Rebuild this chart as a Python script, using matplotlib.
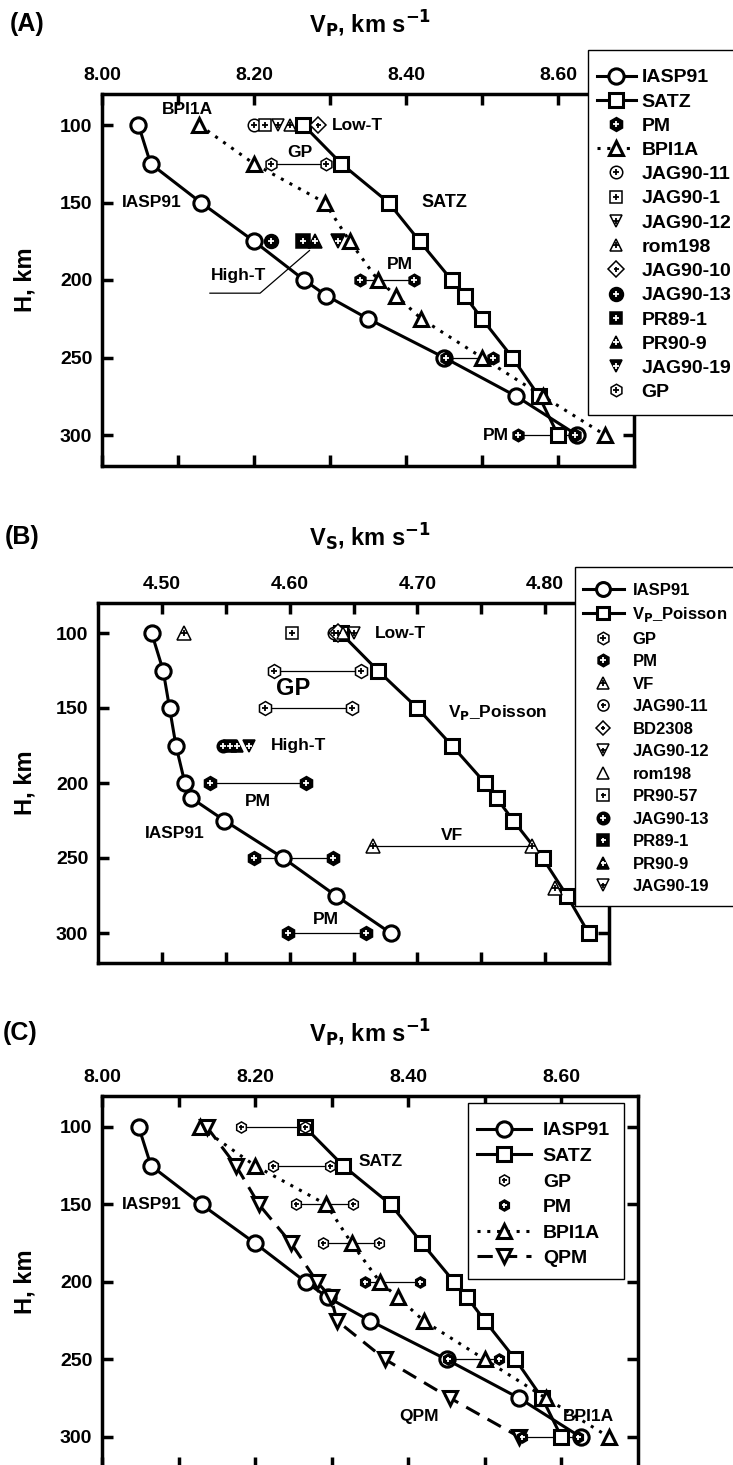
import matplotlib
matplotlib.use("Agg")
import matplotlib.pyplot as plt
from matplotlib.lines import Line2D
from matplotlib.patches import Rectangle
from matplotlib.legend_handler import HandlerTuple

plt.rcParams['font.family'] = ['Liberation Sans', 'DejaVu Sans']
plt.rcParams['font.weight'] = 'bold'
plt.rcParams['mathtext.default'] = 'bf'

# ---------------- data ----------------
H = [100, 125, 150, 175, 200, 210, 225, 250, 275, 300]

# panel A / C (Vp)
vp_iasp91 = [8.048, 8.064, 8.130, 8.200, 8.266, 8.295, 8.350, 8.450, 8.545, 8.625]
vp_satz = [8.265, 8.315, 8.377, 8.418, 8.460, 8.477, 8.500, 8.540, 8.575, 8.600]
vp_bpi1a = [8.128, 8.200, 8.293, 8.326, 8.363, 8.387, 8.420, 8.500, 8.580, 8.662]
vp_qpm = [8.137, 8.175, 8.205, 8.247, 8.281, 8.299, 8.307, 8.370, 8.455, 8.545]

# ranges (pairs at one depth): depth, low, high
a_gp = [(125, 8.222, 8.295)]
a_pm = [(200, 8.339, 8.410), (250, 8.452, 8.515), (300, 8.548, 8.622)]
a_lowT = {'JAG90-11': 8.200, 'JAG90-1': 8.215, 'JAG90-12': 8.232,
          'rom198': 8.248, 'JAG90-10': 8.284}
a_highT = {'JAG90-13': 8.222, 'PR89-1': 8.265, 'PR90-9': 8.280, 'JAG90-19': 8.310}

c_gp = [(100, 8.181, 8.265), (125, 8.223, 8.298), (150, 8.254, 8.328),
        (175, 8.288, 8.362)]
c_pm = [(200, 8.343, 8.415), (250, 8.452, 8.518), (300, 8.548, 8.622)]

# panel B (Vs)
vs_iasp91 = [4.492, 4.501, 4.506, 4.511, 4.518, 4.523, 4.549, 4.595, 4.636, 4.679]
vs_poisson = [4.640, 4.669, 4.700, 4.727, 4.753, 4.762, 4.775, 4.798, 4.817, 4.834]
b_gp = [(125, 4.588, 4.656), (150, 4.581, 4.649)]
b_pm = [(200, 4.538, 4.613), (250, 4.572, 4.634), (300, 4.599, 4.660)]
b_vf = [(242, 4.665, 4.790)]
b_vf_single = [(100, 4.517), (270, 4.808)]
b_lowT = {'PR90-57': 4.602, 'JAG90-11': 4.635, 'BD2308': 4.638,
          'rom198': 4.642, 'JAG90-12': 4.650}
b_highT = {'JAG90-13': 4.548, 'PR89-1': 4.553, 'PR90-9': 4.559, 'JAG90-19': 4.568}

W, HGT = 733, 1465
fig = plt.figure(figsize=(W / 100, HGT / 100), dpi=100)


def frac(x0, y0, x1, y1):
    return [x0 / W, 1 - y1 / HGT, (x1 - x0) / W, (y1 - y0) / HGT]


def style(ax, xlim, major, minor):
    ax.set_xlim(*xlim)
    ax.set_ylim(320, 80)
    ax.set_xticks(major)
    ax.set_xticks(minor, minor=True)
    ax.set_yticks([100, 150, 200, 250, 300])
    ax.tick_params(which='both', direction='in', length=8, width=2.5,
                   top=True, bottom=True, left=True, right=True,
                   labeltop=True, labelbottom=False, labelsize=14, pad=7)
    for s in ax.spines.values():
        s.set_linewidth(2.5)
    for lab in ax.get_xticklabels() + ax.get_yticklabels():
        lab.set_fontweight('bold')


def sym(ax, x, y, m, filled=False, ms=9, plus=True, zorder=5):
    ax.plot(x, y, ls='none', marker=m, ms=ms, mew=1.1,
            mfc='black' if filled else 'white', mec='black', zorder=zorder)
    if plus:
        ax.plot(x, y, ls='none', marker='+', ms=ms * 0.45, mew=1.3,
                color='white' if filled else 'black', zorder=zorder + 0.1)


def ranges(ax, data, m, filled, ms=9):
    for d, lo, hi in data:
        ax.plot([lo, hi], [d, d], color='black', lw=0.9, zorder=3)
        sym(ax, [lo, hi], [d, d], m, filled, ms)


def curve(ax, x, m, ls, ms=11):
    ax.plot(x, H, ls=ls, color='black', lw=2.2, marker=m, ms=ms, mew=2.2,
            mfc='white', mec='black', zorder=4)


def leg_handle(m, filled=False, ms=9, plus=True):
    h1 = Line2D([], [], ls='none', marker=m, ms=ms, mew=1.1,
                mfc='black' if filled else 'white', mec='black')
    if not plus:
        return h1
    h2 = Line2D([], [], ls='none', marker='+', ms=ms * 0.45, mew=1.3,
                color='white' if filled else 'black')
    return (h1, h2)


def line_handle(m, ls, ms=11):
    return Line2D([], [], ls=ls, color='black', lw=2.2, marker=m, ms=ms,
                  mew=2.2, mfc='white', mec='black')


def boxed_legend(handles, labels, box, anchor_y, size, **kw):
    # frame drawn separately so the vertical padding can differ from the horizontal one
    x0, y0, x1, y1 = box
    fig.add_artist(Rectangle((x0 / W, 1 - y1 / HGT), (x1 - x0) / W, (y1 - y0) / HGT,
                             transform=fig.transFigure, fc='white', ec='black',
                             lw=1.0, zorder=9))
    lg = fig.legend(handles, labels, handler_map={tuple: HandlerTuple(ndivide=1)},
                    loc='upper left', bbox_to_anchor=(x0 / W, 1 - anchor_y / HGT),
                    borderaxespad=0, frameon=False, borderpad=0.45,
                    prop=dict(size=size, weight='bold'), **kw)
    lg.set_zorder(10)


TXT = dict(fontsize=12.5, fontweight='bold')
DOT = (0, (1, 2.2))
DASH = (0, (5, 3))

# ---------------- panel A ----------------
axA = fig.add_axes(frac(102, 94, 634, 466))
style(axA, (8.0, 8.7), [8.0, 8.2, 8.4, 8.6], [8.1, 8.3, 8.5])
axA.set_xticklabels(['8.00', '8.20', '8.40', '8.60'])
curve(axA, vp_iasp91, 'o', '-')
curve(axA, vp_satz, 's', '-', ms=10)
curve(axA, vp_bpi1a, '^', DOT, ms=10)
ranges(axA, a_gp, 'h', False)
ranges(axA, a_pm, 'h', True)
low_m = {'JAG90-11': 'o', 'JAG90-1': 's', 'JAG90-12': 'v', 'rom198': '^', 'JAG90-10': 'D'}
for k, v in a_lowT.items():
    sym(axA, [v], [100], low_m[k], False, 9 if k != 'JAG90-10' else 8)
high_m = {'JAG90-13': 'o', 'PR89-1': 's', 'PR90-9': '^', 'JAG90-19': 'v'}
for k, v in a_highT.items():
    sym(axA, [v], [175], high_m[k], True, 10)
axA.text(8.112, 90, 'BPI1A', ha='center', va='center', **TXT)
axA.text(8.303, 100, 'Low-T', ha='left', va='center', **TXT)
axA.text(8.26, 118, 'GP', ha='center', va='center', **TXT)
axA.text(8.065, 150, 'IASP91', ha='center', va='center', **TXT)
axA.text(8.42, 150, 'SATZ', ha='left', va='center', fontsize=13, fontweight='bold')
axA.text(8.392, 190, 'PM', ha='center', va='center', **TXT)
axA.text(8.535, 300, 'PM', ha='right', va='center', **TXT)
axA.text(8.18, 197, 'High-T', ha='center', va='center', **TXT)
axA.plot([8.142, 8.208, 8.273], [208.5, 208.5, 181], color='black', lw=0.9)

legA_h = [line_handle('o', '-'), line_handle('s', '-', 10),
          leg_handle('h', True, 10), line_handle('^', DOT, 10),
          leg_handle('o'), leg_handle('s'), leg_handle('v'), leg_handle('^'),
          leg_handle('D', ms=8), leg_handle('o', True, 10), leg_handle('s', True),
          leg_handle('^', True), leg_handle('v', True), leg_handle('h')]
legA_l = ['IASP91', 'SATZ', 'PM', 'BPI1A', 'JAG90-11', 'JAG90-1', 'JAG90-12',
          'rom198', 'JAG90-10', 'JAG90-13', 'PR89-1', 'PR90-9', 'JAG90-19', 'GP']
boxed_legend(legA_h, legA_l, (588, 50, 745, 415), 60, 14, handlelength=2.0,
             labelspacing=0.34, handletextpad=0.3)

# ---------------- panel B ----------------
axB = fig.add_axes(frac(98, 603, 609, 963))
style(axB, (4.45, 4.85), [4.5, 4.6, 4.7, 4.8], [4.55, 4.65, 4.75])
axB.set_xticklabels(['4.50', '4.60', '4.70', '4.80'])
curve(axB, vs_iasp91, 'o', '-')
curve(axB, vs_poisson, 's', '-', ms=10)
ranges(axB, b_gp, 'h', False, 10)
ranges(axB, b_pm, 'h', True, 10)
ranges(axB, b_vf, '^', False, 10)
for d, v in b_vf_single:
    sym(axB, [v], [d], '^', False, 10)
blow_m = {'PR90-57': 's', 'JAG90-11': 'o', 'BD2308': 'D', 'rom198': '^', 'JAG90-12': 'v'}
for k, v in b_lowT.items():
    sym(axB, [v], [100], blow_m[k], False, 9, plus=(k != 'rom198'))
for k, v in b_highT.items():
    sym(axB, [v], [175], high_m[k], True, 9)
axB.text(4.667, 100, 'Low-T', ha='left', va='center', **TXT)
axB.text(4.603, 137, 'GP', ha='center', va='center', fontsize=17, fontweight='bold')
axB.text(4.724, 153, 'V$_\\mathbf{P}$_Poisson', ha='left', va='center', **TXT)
axB.text(4.585, 175, 'High-T', ha='left', va='center', **TXT)
axB.text(4.575, 212, 'PM', ha='center', va='center', **TXT)
axB.text(4.51, 234, 'IASP91', ha='center', va='center', **TXT)
axB.text(4.727, 235, 'VF', ha='center', va='center', **TXT)
axB.text(4.628, 291, 'PM', ha='center', va='center', **TXT)

legB_h = [line_handle('o', '-', 10), line_handle('s', '-', 9),
          leg_handle('h', ms=9), leg_handle('h', True, 9), leg_handle('^', ms=9),
          leg_handle('o', ms=8), leg_handle('D', ms=7), leg_handle('v', ms=8),
          leg_handle('^', ms=9, plus=False), leg_handle('s', ms=8),
          leg_handle('o', True, 9), leg_handle('s', True, 8),
          leg_handle('^', True, 8), leg_handle('v', ms=8)]
legB_l = ['IASP91', 'V$_\\mathbf{P}$_Poisson', 'GP', 'PM', 'VF', 'JAG90-11', 'BD2308',
          'JAG90-12', 'rom198', 'PR90-57', 'JAG90-13', 'PR89-1', 'PR90-9', 'JAG90-19']
boxed_legend(legB_h, legB_l, (575, 567, 745, 906), 575, 12, handlelength=2.5,
             labelspacing=0.45, handletextpad=0.5)

# ---------------- panel C ----------------
axC = fig.add_axes(frac(102, 1096, 638, 1468))
style(axC, (8.0, 8.7), [8.0, 8.2, 8.4, 8.6], [8.1, 8.3, 8.5])
axC.set_xticklabels(['8.00', '8.20', '8.40', '8.60'])
curve(axC, vp_iasp91, 'o', '-')
curve(axC, vp_satz, 's', '-', ms=10)
curve(axC, vp_bpi1a, '^', DOT, ms=10)
curve(axC, vp_qpm, 'v', DASH, ms=10)
ranges(axC, c_gp, 'h', False, 8)
ranges(axC, c_pm, 'h', True, 8)
axC.text(8.065, 150, 'IASP91', ha='center', va='center', **TXT)
axC.text(8.335, 122, 'SATZ', ha='left', va='center', **TXT)
axC.text(8.44, 287, 'QPM', ha='right', va='center', **TXT)
axC.text(8.635, 287, 'BPI1A', ha='center', va='center', **TXT)
boxed_legend([line_handle('o', '-'), line_handle('s', '-', 10), leg_handle('h', ms=8),
              leg_handle('h', True, 8), line_handle('^', DOT, 10),
              line_handle('v', DASH, 10)],
             ['IASP91', 'SATZ', 'GP', 'PM', 'BPI1A', 'QPM'],
             (468, 1103, 624, 1279), 1113, 14, handlelength=2.8,
             labelspacing=0.41, handletextpad=0.6)

# titles, panel letters, y labels
for lab, xt, yc, ttl in [('(A)', 10, 24, 'V$_\\mathbf{P}$, km s$^\\mathbf{-1}$'),
                         ('(B)', 5, 537, 'V$_\\mathbf{S}$, km s$^\\mathbf{-1}$'),
                         ('(C)', 3, 1033, 'V$_\\mathbf{P}$, km s$^\\mathbf{-1}$')]:
    fig.text(xt / W, 1 - yc / HGT, lab, ha='left', va='center', fontsize=18,
             fontweight='bold')
    fig.text(370 / W, 1 - yc / HGT, ttl, ha='center', va='center', fontsize=17,
             fontweight='bold')
for yc in [280, 783, 1282]:
    fig.text(25 / W, 1 - yc / HGT, 'H, km', ha='center', va='center', fontsize=17,
             fontweight='bold', rotation=90)

fig.savefig('out.png', dpi=100)
